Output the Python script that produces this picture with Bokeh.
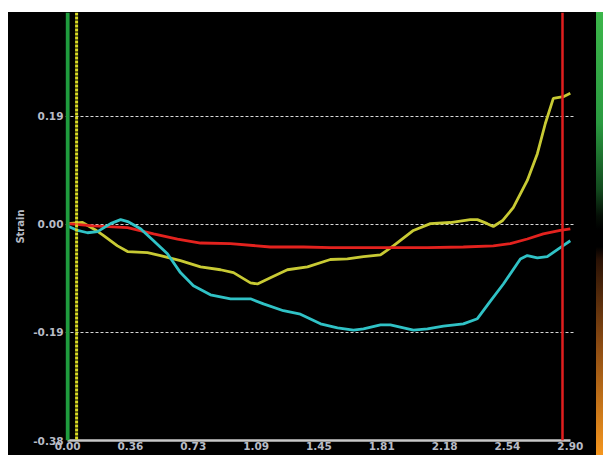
from bokeh.plotting import figure
from bokeh.models import FixedTicker, Span, Spacer, Div, Range1d
from bokeh.layouts import column, row
from bokeh.embed import file_html
from bokeh.resources import INLINE

# ---- data ----
x_ticks = [0.0, 0.3625, 0.725, 1.0875, 1.45, 1.8125, 2.175, 2.5375, 2.9]
x_labels = ["0.00", "0.36", "0.73", "1.09", "1.45", "1.81", "2.18", "2.54", "2.90"]
y_ticks = [0.19, 0.0, -0.19, -0.38]
y_labels = ["0.19", "0.00", "-0.19", "-0.38"]

yellow_x = [0.0, 0.086, 0.161, 0.208, 0.288, 0.346, 0.461, 0.536, 0.651, 0.767, 0.882, 0.957,
            1.055, 1.095, 1.170, 1.268, 1.384, 1.516, 1.614, 1.707, 1.805, 1.879, 1.995, 2.093,
            2.208, 2.323, 2.364, 2.421, 2.456, 2.508, 2.571, 2.652, 2.710, 2.756, 2.802, 2.860, 2.900]
yellow_y = [0.001, 0.003, -0.010, -0.020, -0.038, -0.048, -0.050, -0.055, -0.064, -0.075, -0.080, -0.085,
            -0.103, -0.105, -0.094, -0.080, -0.075, -0.062, -0.061, -0.057, -0.054, -0.038, -0.011, 0.001,
            0.003, 0.008, 0.008, 0.001, -0.004, 0.006, 0.029, 0.077, 0.124, 0.177, 0.221, 0.224, 0.230]

cyan_x = [0.0, 0.058, 0.115, 0.173, 0.248, 0.306, 0.352, 0.421, 0.496, 0.576, 0.651, 0.726, 0.824,
          0.940, 1.055, 1.130, 1.245, 1.343, 1.459, 1.557, 1.649, 1.707, 1.805, 1.862, 1.995, 2.076,
          2.168, 2.283, 2.364, 2.439, 2.514, 2.612, 2.652, 2.710, 2.767, 2.842, 2.900]
cyan_y = [-0.003, -0.011, -0.015, -0.013, 0.001, 0.008, 0.004, -0.008, -0.029, -0.052, -0.085, -0.108, -0.124,
          -0.131, -0.131, -0.140, -0.152, -0.158, -0.175, -0.182, -0.186, -0.184, -0.177, -0.177, -0.186, -0.184,
          -0.179, -0.175, -0.166, -0.135, -0.105, -0.061, -0.055, -0.059, -0.057, -0.041, -0.029]

red_x = [0.0, 0.150, 0.346, 0.496, 0.634, 0.767, 0.940, 1.170, 1.361, 1.516, 1.689, 1.862, 2.076,
         2.283, 2.456, 2.554, 2.652, 2.744, 2.842, 2.900]
red_y = [0.001, -0.003, -0.006, -0.017, -0.026, -0.033, -0.034, -0.040, -0.040, -0.041, -0.041, -0.041, -0.041,
         -0.040, -0.038, -0.034, -0.026, -0.017, -0.011, -0.008]

marker_green = 0.0
marker_yellow = 0.052
marker_red = 2.855

# ---- figure ----
LABEL = "#b8bcc6"
p = figure(width=588, height=443, x_range=Range1d(-0.012, 2.93), y_range=Range1d(-0.38, 0.372),
           output_backend="svg", toolbar_location=None,
           min_border_left=57, min_border_right=21, min_border_top=0, min_border_bottom=15)
p.background_fill_color = "black"
p.border_fill_color = "black"
p.outline_line_color = None

p.xgrid.visible = False
p.ygrid.ticker = FixedTicker(ticks=y_ticks)
p.ygrid.grid_line_color = "#d8d8d8"
p.ygrid.grid_line_dash = "3 2"
p.ygrid.grid_line_width = 1
p.ygrid.bounds = (0, 2.9)

p.xaxis.ticker = FixedTicker(ticks=x_ticks)
p.xaxis.major_label_overrides = dict(zip(x_ticks, x_labels))
p.xaxis.bounds = (0, 2.9)
p.xaxis.axis_line_color = "#c8c8c8"
p.xaxis.axis_line_width = 2.5
p.xaxis.major_tick_line_color = None
p.xaxis.minor_tick_line_color = None
p.xaxis.major_tick_out = 0
p.xaxis.major_label_standoff = 1

p.yaxis.ticker = FixedTicker(ticks=y_ticks)
p.yaxis.major_label_overrides = dict(zip(y_ticks, y_labels))
p.yaxis.axis_line_color = None
p.yaxis.major_tick_line_color = None
p.yaxis.minor_tick_line_color = None
p.yaxis.major_tick_out = 0
p.yaxis.major_label_standoff = 2
p.yaxis.axis_label = "Strain"
p.yaxis.axis_label_standoff = 4
p.yaxis.axis_label_text_font = "DejaVu Sans"
p.yaxis.axis_label_text_font_style = "bold"
p.yaxis.axis_label_text_font_size = "10px"
p.yaxis.axis_label_text_color = LABEL

for ax in (p.xaxis, p.yaxis):
    ax.major_label_text_font = "DejaVu Sans"
    ax.major_label_text_font_style = "bold"
    ax.major_label_text_font_size = "10.5px"
    ax.major_label_text_color = LABEL

p.line(yellow_x, yellow_y, line_color="#c8ca34", line_width=2.8)
p.line(red_x, red_y, line_color="#e3221e", line_width=2.8)
p.line(cyan_x, cyan_y, line_color="#30c2c6", line_width=2.8)

p.add_layout(Span(location=marker_green, dimension="height", line_color="#1f9c3e", line_width=4))
p.add_layout(Span(location=marker_yellow, dimension="height", line_color="#dada22", line_width=3,
                  line_dash="3 1"))
p.add_layout(Span(location=marker_red, dimension="height", line_color="#e01e1e", line_width=2.5))

bar_css = ("linear-gradient(to bottom, #3cb64a 0%, #2a9a40 25%, #124a1e 40%, #050e06 46%, #000 49%, "
           "#000 53%, #2a1205 56%, #8a4a12 75%, #f5961e 100%)")
bar = Div(width=7, height=443,
          text='<div style="width:7px;height:443px;background:%s"></div>' % bar_css,
          styles={"margin": "0", "padding": "0"})

inner = row(p, bar, styles={"background-color": "black"})
layout = column(Spacer(width=603, height=12),
                row(Spacer(width=8, height=443), inner))

open("out.html", "w").write(file_html(layout, INLINE))
